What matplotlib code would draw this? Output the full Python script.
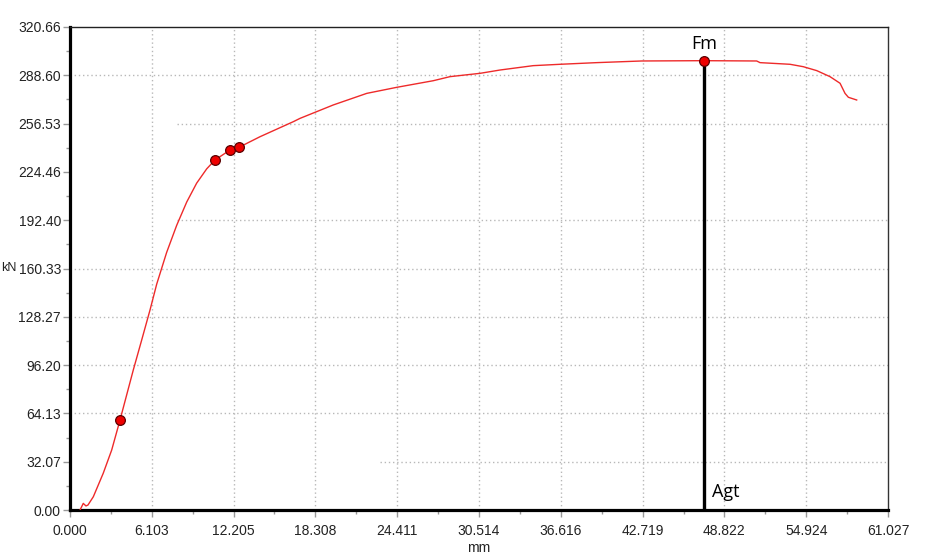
import matplotlib
matplotlib.use("Agg")
import matplotlib.pyplot as plt
import numpy as np

# ---- data ----
disp_mm = [0.75, 0.99, 1.19, 1.34, 1.74, 2.48, 3.11, 3.73, 4.72, 5.35, 5.97, 6.47,
           7.21, 7.96, 8.71, 9.45, 10.20, 10.82, 11.94, 12.61, 14.17, 16.66, 17.16,
           19.64, 22.14, 24.37, 27.10, 28.35, 30.59, 32.08, 34.56, 36.56, 39.29,
           42.65, 47.25, 51.23, 51.48, 53.72, 54.71, 55.71, 56.70, 57.45, 57.82,
           58.07, 58.69]
force_kN = [0.0, 4.4, 2.7, 3.3, 8.8, 24.4, 39.8, 59.7, 92.9, 112.9, 132.8, 150.0,
            171.0, 189.0, 204.5, 217.0, 226.5, 232.4, 239.0, 240.8, 247.8, 257.8, 260.0,
            268.9, 276.6, 280.6, 285.0, 287.7, 289.9, 292.1, 295.0, 295.9, 297.0,
            298.1, 298.3, 298.1, 297.0, 295.9, 294.3, 291.7, 287.7, 283.3, 276.6,
            274.0, 272.2]
marker_x = [3.73, 10.82, 11.94, 12.61]
marker_y = [59.7, 232.4, 239.0, 240.8]
fm_x = 47.3
fm_y = 298.3

x_ticks = [0.000, 6.103, 12.205, 18.308, 24.411, 30.514, 36.616, 42.719, 48.822, 54.924, 61.027]
x_tick_labels = ["0.000", "6.103", "12.205", "18.308", "24.411", "30.514", "36.616",
                 "42.719", "48.822", "54.924", "61.027"]
y_ticks = [0.00, 32.07, 64.13, 96.20, 128.27, 160.33, 192.40, 224.46, 256.53, 288.60, 320.66]
y_tick_labels = ["0.00", "32.07", "64.13", "96.20", "128.27", "160.33", "192.40",
                 "224.46", "256.53", "288.60", "320.66"]
x_label = "mm"
y_label = "kN"

plt.rcParams['font.family'] = ['Liberation Sans', 'DejaVu Sans']

fig = plt.figure(figsize=(9.35, 5.58), dpi=100)
ax = fig.add_axes([70/935, 1-510/558, 818/935, 483/558])
ax.set_xlim(x_ticks[0], x_ticks[-1])
ax.set_ylim(y_ticks[0], y_ticks[-1])

# grid
grid_kw = dict(color='#b8b8b8', linestyle=(0, (1, 2)), linewidth=1.0, zorder=0)
for xv in x_ticks[1:-1]:
    ax.axvline(xv, **grid_kw)
h_starts = {32.07: 0.379, 192.40: 0.131, 256.53: 0.131}
for yv in y_ticks[1:-1]:
    if yv == 224.46:
        continue
    ax.axhline(yv, xmin=h_starts.get(yv, 0.0), **grid_kw)

# curve and markers
ax.plot(disp_mm, force_kN, color='#ee2a2a', linewidth=1.0, zorder=3)
ax.plot(marker_x, marker_y, linestyle='none', marker='o', markersize=7,
        markerfacecolor='#ee0000', markeredgecolor='#5a0000', markeredgewidth=0.9, zorder=5)
ax.plot([fm_x, fm_x], [0, fm_y], color='black', linewidth=2.4, zorder=4)
ax.plot([fm_x], [fm_y], linestyle='none', marker='o', markersize=7,
        markerfacecolor='#ee0000', markeredgecolor='#5a0000', markeredgewidth=0.9, zorder=6)
ax.text(fm_x, fm_y + 5, "Fm", ha='center', va='bottom', fontsize=13,
        family=['Open Sans', 'DejaVu Sans'], color='black')
ax.text(fm_x + 0.6, 6, "Agt", ha='left', va='bottom', fontsize=13,
        family=['Open Sans', 'DejaVu Sans'], color='black')

# spines
ax.spines['left'].set_linewidth(2.3)
ax.spines['bottom'].set_linewidth(2.3)
ax.spines['left'].set_color('black')
ax.spines['bottom'].set_color('black')
ax.spines['top'].set_linewidth(1.0)
ax.spines['top'].set_linestyle((0, (2, 1)))
ax.spines['top'].set_color('#222222')
ax.spines['right'].set_linewidth(1.0)
ax.spines['right'].set_color('#333333')

# ticks
ax.set_xticks(x_ticks)
ax.set_xticklabels(x_tick_labels)
ax.set_yticks(y_ticks)
ax.set_yticklabels(y_tick_labels)
ax.set_xticks([(a + b) / 2 for a, b in zip(x_ticks[:-1], x_ticks[1:])], minor=True)
ax.set_yticks([(a + b) / 2 for a, b in zip(y_ticks[:-1], y_ticks[1:])], minor=True)
ax.tick_params(axis='both', which='major', length=5, width=1, color='#999999',
               labelsize=10, labelcolor='#222222', direction='out')
ax.tick_params(axis='both', which='minor', length=3, width=1, color='#999999', direction='out')
ax.tick_params(axis='x', which='major', pad=5)
ax.tick_params(axis='y', which='major', pad=1.5)

ax.set_xlabel(x_label, fontsize=10, color='#222222', labelpad=2)
fig.text(1/935, 1-268/558, y_label, fontsize=9, color='#222222', ha='left', va='center')

fig.savefig("out.png", dpi=100)
